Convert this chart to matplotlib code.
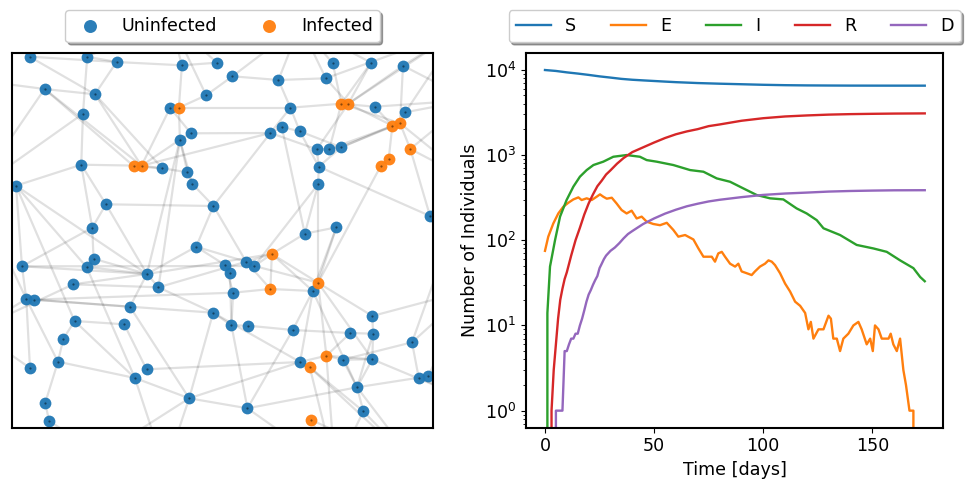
import numpy as np
import matplotlib.pyplot as plt

plt.rcParams['font.size'] = 12.6

# ---------------- network (positions, screen units) -------------
node_x = [29.3, 87, 116.3, 181.7, 216.7, 232.3, 278.3, 325.7, 332.7, 371, 403, 44.3, 94.7, 82.7,
          170, 178.7, 206, 290.3, 341.3, 348.3, 374.7, 405.3, 392.3, 400, 190.7, 179.7, 270.3,
          281.7, 299.7, 316.7, 329.3, 341, 410.3, 388.7, 380.7, 318.7, 318, 81, 133.7, 141.3,
          162.3, 187.3, 192, 15.7, 105.7, 213.3, 430, 92, 336.3, 304.7, 196, 271.7, 246, 254.3,
          225, 229.7, 21.7, 93.3, 86.3, 146.7, 73, 158.3, 318, 312.7, 270.3, 233, 26, 33.3,
          129.7, 213, 372.3, 74.3, 124, 231.3, 248.3, 292.7, 350.3, 373, 412, 63, 57.7, 29.7,
          146.3, 134.7, 300, 326.3, 309.7, 342.7, 372.3, 418.7, 428.3, 357, 189, 45, 48.7,
          247.3, 363.3, 311.3,
          # nodes outside the visible window
          -25, -25, -25, 100, 165, 335, 420, 470, 470, 470, 470, 460, 300, 170, 40]
node_y = [56.7, 56.7, 62, 65.3, 62.7, 76.3, 80, 78.3, 63.3, 62.7, 65.7, 89, 94.3, 113.7,
          107.7, 107.7, 95.3, 107.7, 103.7, 103.7, 106.7, 112.3, 125.7, 123.3, 133.3, 139.7, 133,
          127, 131.3, 149.3, 149, 147.3, 149, 158.7, 166, 166.7, 184.3, 164.7, 166.3, 165.7,
          168.3, 172.3, 183.7, 185.7, 204.3, 206, 216, 227.7, 227.3, 233.7, 246.7, 254, 261.7, 266,
          265, 272.7, 266.3, 258.7, 267, 274, 284.3, 287.3, 282.7, 291, 289, 292.7, 299, 299.7,
          306.7, 312.7, 316, 321, 324.3, 325.3, 325.7, 330, 333, 333.7, 342.3, 339, 361.7, 368,
          369.3, 378, 362, 355.7, 367.3, 359.7, 359.3, 377.7, 375.7, 387.3, 398.3, 402.7, 420.7,
          408.3, 411.3, 420,
          80, 190, 330, 455, 470, 470, 470, 400, 290, 180, 100, 30, 25, 20, 25]
infected_ids = [16, 19, 20, 23, 24, 33, 34, 35, 39, 40, 52, 63, 65, 86, 87, 98]
n_visible = 98

edges = [(113, 1), (1, 13), (1, 3), (2, 3), (2, 14), (3, 13), (3, 4), (12, 13), (12, 40), (12, 39),
         (99, 12), (14, 100), (13, 41), (38, 40), (38, 44), (38, 45), (38, 48), (45, 48), (45, 60),
         (44, 57), (44, 59), (44, 72), (44, 60), (57, 60), (57, 67), (57, 54), (67, 82), (67, 81),
         (67, 69), (68, 66), (68, 69), (58, 48), (58, 59), (61, 62), (48, 57), (72, 80), (80, 81),
         (81, 94), (94, 95), (81, 84), (72, 84), (59, 84), (73, 83), (69, 60), (69, 93), (83, 85),
         (84, 93), (101, 61), (101, 67), (95, 102), (4, 5), (4, 16), (6, 17), (17, 16), (16, 15),
         (16, 18), (16, 26), (25, 26), (25, 27), (6, 7), (7, 18), (5, 112), (4, 112), (26, 42),
         (26, 43), (26, 62), (60, 26), (39, 41), (40, 41), (41, 42), (42, 43), (43, 46), (46, 53),
         (40, 26), (40, 15), (27, 28), (28, 29), (27, 40), (27, 46), (18, 27), (18, 19), (9, 19),
         (10, 19), (10, 20), (11, 20), (8, 20), (19, 21), (20, 23), (19, 24), (21, 23), (22, 24),
         (23, 32), (24, 31), (20, 30), (19, 31), (11, 24), (22, 109), (33, 24), (33, 108), (34, 23),
         (35, 34), (36, 37), (30, 36), (37, 63), (36, 47), (30, 31), (31, 32), (32, 24), (8, 7),
         (47, 107), (110, 11), (111, 8), (111, 9), (109, 21), (50, 52), (49, 63), (52, 53), (52, 54),
         (53, 54), (55, 56), (55, 66), (56, 74), (66, 74), (52, 64), (52, 63), (65, 64), (62, 70),
         (62, 53), (70, 74), (70, 85), (74, 75), (74, 96), (93, 96), (96, 76), (76, 64), (63, 71),
         (63, 89), (71, 78), (71, 107), (77, 78), (77, 86), (79, 88), (79, 90), (86, 88), (86, 89),
         (87, 85), (87, 97), (92, 88), (92, 78), (92, 89), (92, 97), (92, 90), (90, 91), (98, 104),
         (93, 102), (93, 103), (93, 85), (89, 106), (91, 106), (97, 105), (92, 105), (60, 62),
         (51, 60), (51, 55), (60, 52), (49, 64), (50, 37), (35, 63), (108, 79), (86, 63), (87, 105),
         (86, 104), (96, 92), (37, 54), (64, 92), (33, 47), (29, 36), (28, 50), (36, 32),
         (2, 112), (7, 111), (8, 110), (20, 110), (17, 112), (24, 108), (11, 109), (47, 108),
         (79, 107), (90, 106), (91, 107), (44, 100), (67, 100), (82, 101), (12, 100), (84, 103),
         (96, 104), (98, 105), (97, 104), (87, 104), (15, 25), (14, 38), (13, 40), (27, 30),
         (29, 32), (18, 29), (49, 50), (53, 65), (52, 65), (54, 63), (76, 77), (85, 86), (88, 89),
         (78, 89), (64, 85), (70, 93), (75, 76), (65, 66), (60, 61), (59, 60), (58, 60), (69, 70),
         (73, 72), (45, 46), (46, 51), (51, 53), (10, 111), (6, 111), (22, 110), (33, 109)]

# ---------------- epidemic curves -------------
t_S = [0, 5, 10, 15, 20, 25, 30, 35, 40, 45, 50, 55, 60, 70, 80, 90, 100, 110, 120, 130, 140,
       150, 160, 174]
S = [9925, 9680, 9315, 9020, 8700, 8360, 8090, 7815, 7630, 7500, 7380, 7260, 7150, 6980, 6860,
     6760, 6660, 6590, 6550, 6530, 6515, 6510, 6507, 6505]

t_E = [0, 1.5, 3.8, 6.1, 8.4, 10.7, 13, 15.3, 16.8, 19.1, 21.4, 23.7, 25.2, 26.7, 28.3, 30.6,
       32.8, 35.1, 37.4, 39.7, 42, 44.3, 46.6, 49.6, 52.7, 55.8, 58.8, 61.1, 64.2, 68, 70.3, 72.6,
       76.4, 77.9, 79.4, 81, 82.5, 84.8, 87.1, 88.6, 90.1, 92.4, 94.7, 96.2, 98.5, 100.8, 102.4,
       103.9, 105.4, 107.7, 110, 112.3, 114.6, 116.9, 119.2, 120.7, 121.8, 123, 125.3, 127.6,
       129.9, 131, 132.1, 133.7, 135.2, 136.7, 139, 141.3, 143.6, 145.1, 147.4, 149, 150.2, 151.2,
       152.8, 154.3, 157.4, 158.4, 159.6, 161.2, 162.7, 164.2, 165.4, 167, 168.8, 169.6]
E = [75, 110, 157, 206, 247, 275, 301, 318, 296, 310, 296, 324, 345, 324, 307, 315,
     270, 226, 206, 222, 180, 189, 165, 155, 150, 160, 132, 110, 115, 102, 80, 64,
     64, 56, 70, 73, 64, 53, 49, 53, 43, 41, 39, 43, 49, 53, 58,
     56, 51, 41, 31, 25, 19, 17, 14, 9, 11, 7, 9, 9,
     13, 12, 7, 7, 5, 7, 8, 10, 11, 9, 6, 7, 5, 10,
     9, 7, 7, 8, 6, 5, 7, 3, 2, 1, 1, 0]

t_I = [0, 1.1, 2.3, 4.6, 6.9, 9.9, 13, 16, 19.1, 22.2, 26.7, 31.3, 37.4, 43.5, 46.6, 51.2, 58.8,
       66.5, 72.6, 78.7, 84.8, 90.9, 97, 103.1, 109.2, 115.3, 119.9, 124.5, 127.6, 135.2, 142.8,
       150.5, 156.6, 162.7, 168.8, 171.9, 174]
I = [0, 14, 49, 100, 189, 296, 425, 556, 665, 762, 834, 953, 998, 953, 871, 834, 762,
     665, 636, 531, 485, 405, 339, 310, 301, 236, 206, 172, 138, 115, 88,
     80, 73, 58, 47, 37, 33]

t_R = [0, 2, 3, 4, 5, 6, 7, 8, 9, 10, 12, 14, 16, 18, 20, 22, 24, 26, 28, 30, 33, 36, 40, 45,
       50, 55, 60, 65, 70, 75, 80, 90, 100, 110, 120, 130, 140, 150, 160, 174]
R = [0, 0, 1, 3, 6, 12, 20, 27, 35, 42, 66, 100, 140, 200, 270, 345, 430, 500, 590, 660, 790,
     920, 1080, 1230, 1400, 1580, 1750, 1890, 2010, 2180, 2280, 2520, 2700, 2830, 2910, 2975,
     3015, 3040, 3060, 3075]

t_D = [0, 4, 5, 8, 9, 10, 11, 12, 13, 14, 15, 16, 17, 18, 19, 20, 21, 22, 23, 24, 25, 26, 27,
       28, 30, 32, 34, 36, 38, 40, 45, 50, 55, 60, 65, 70, 75, 80, 90, 100, 110, 120, 130, 140,
       150, 160, 174]
D = [0, 0, 1, 1, 5, 5, 6, 7, 7, 8, 8, 10, 12, 15, 19, 23, 26, 30, 34, 38, 47, 53, 60,
     66, 75, 82, 92, 105, 118, 128, 155, 180, 205, 228, 250, 268, 285, 298, 320, 340, 353, 362,
     372, 378, 382, 385, 386]

# ---------------- figure -------------
fig = plt.figure(figsize=(9.67, 4.83), dpi=100, facecolor='white')
ax1 = fig.add_axes([12 / 967, 55.3 / 483, 421 / 967, 375 / 483])
ax2 = fig.add_axes([526 / 967, 55.3 / 483, 417.3 / 967, 375 / 483])

# network panel
for a, b in edges:
    ax1.plot([node_x[a - 1], node_x[b - 1]], [node_y[a - 1], node_y[b - 1]],
             color='k', alpha=0.12, lw=1.6, zorder=1)

vis_x = np.array(node_x[:n_visible])
vis_y = np.array(node_y[:n_visible])
inf = np.zeros(n_visible, dtype=bool)
inf[np.array(infected_ids) - 1] = True

ax1.scatter(vis_x[~inf], vis_y[~inf], s=72, color='C0', alpha=0.95, zorder=2,
            linewidths=0, label='Uninfected')
ax1.scatter(vis_x[inf], vis_y[inf], s=72, color='C1', alpha=0.95, zorder=2,
            linewidths=0, label='Infected')
ax1.scatter(vis_x, vis_y, s=2.5, color='k', alpha=0.45, zorder=3, linewidths=0)

ax1.set_xlim(11.7, 433)
ax1.set_ylim(427.7, 52.7)
ax1.set_xticks([])
ax1.set_yticks([])
for sp in ax1.spines.values():
    sp.set_linewidth(1.5)
ax1.legend(loc='lower center', bbox_to_anchor=(0.5, 1.005), ncol=2, shadow=True,
           markerscale=1.1)

# SEIRD panel
lw = 1.7
ax2.plot(t_S, S, color='C0', lw=lw, label='S')
ax2.plot(t_E, E, color='C1', lw=lw, label='E')
ax2.plot(t_I, I, color='C2', lw=lw, label='I')
ax2.plot(t_R, R, color='C3', lw=lw, label='R')
ax2.plot(t_D, D, color='C4', lw=lw, label='D')
ax2.set_yscale('log')
ax2.set_xlim(-8.7, 182.5)
ax2.set_ylim(10 ** -0.2, 10 ** 4.2)
ax2.set_xticks([0, 50, 100, 150])
ax2.set_xlabel('Time [days]')
ax2.set_ylabel('Number of Individuals')
for sp in ax2.spines.values():
    sp.set_linewidth(1.5)
ax2.legend(loc='lower center', bbox_to_anchor=(0.5, 1.005), ncol=5, shadow=True)

fig.savefig('out.png', dpi=100)
